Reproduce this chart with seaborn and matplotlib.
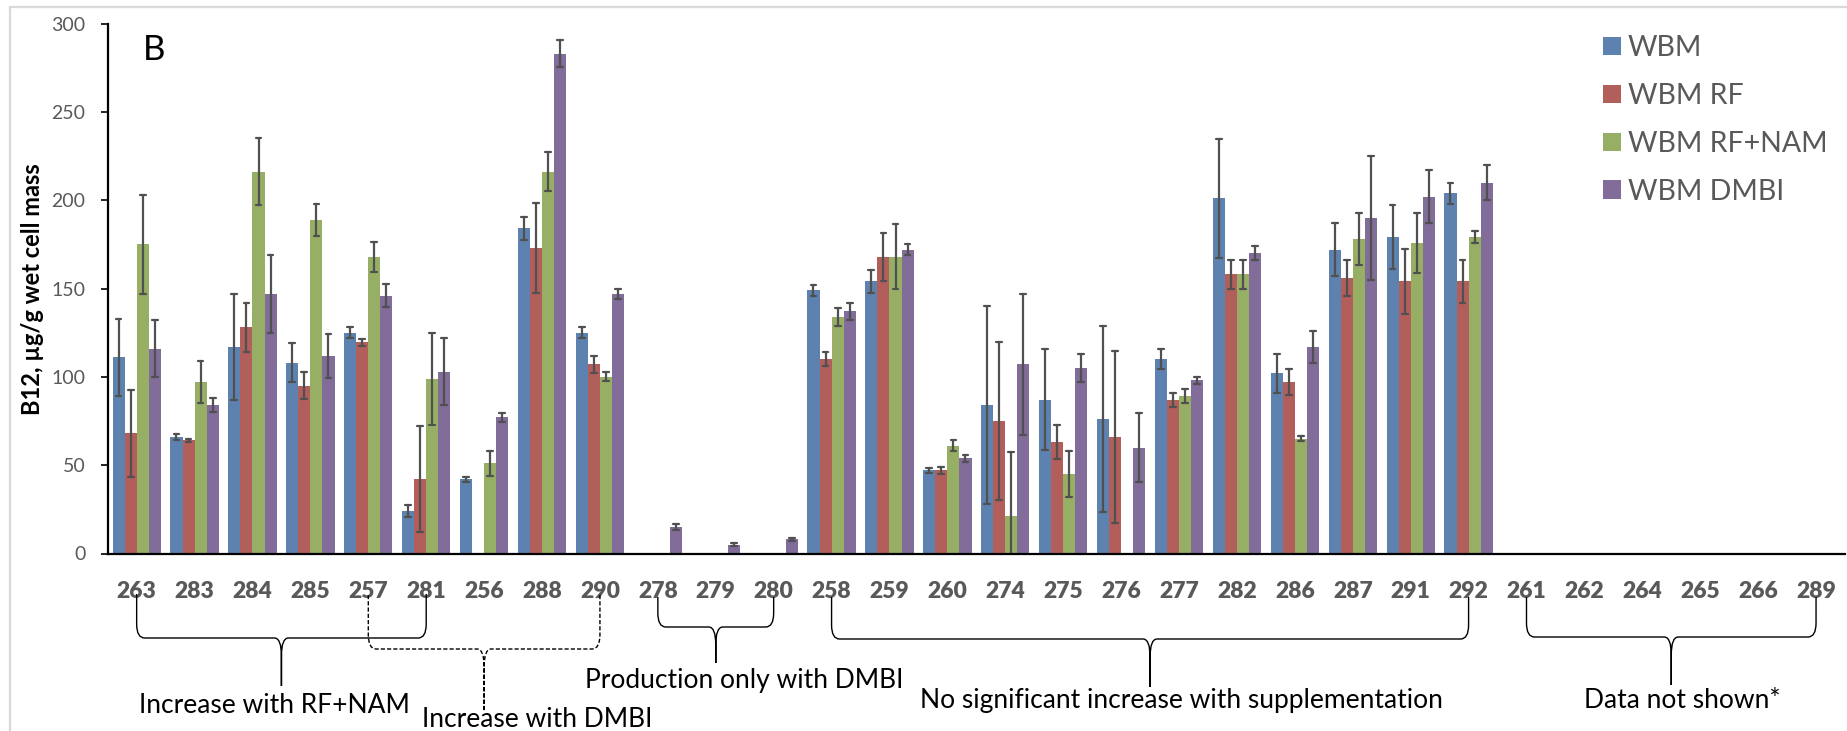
import numpy as np
import pandas as pd
import matplotlib
matplotlib.use("Agg")
import matplotlib.pyplot as plt
import seaborn as sns
from matplotlib.path import Path
from matplotlib.patches import PathPatch
from matplotlib.lines import Line2D
from matplotlib.transforms import IdentityTransform

nan = np.nan

# ---------------- data ----------------
categories = ['263', '283', '284', '285', '257', '281', '256', '288', '290',
              '278', '279', '280', '258', '259', '260', '274', '275', '276',
              '277', '282', '286', '287', '291', '292', '261', '262', '264',
              '265', '266', '289']
series = ['WBM', 'WBM RF', 'WBM RF+NAM', 'WBM DMBI']

wbm = [111, 66, 117, 108, 125, 24, 42, 184, 125, nan, nan, nan, 149, 154, 47,
       84, 87, 76, 110, 201, 102, 172, 179, 204, nan, nan, nan, nan, nan, nan]
wbm_err = [22, 1.5, 30, 11, 3, 3.5, 1.5, 6.5, 3, nan, nan, nan, 3, 6.5, 1.5,
           56, 28.5, 52.5, 5.5, 33.5, 11, 15, 18, 6, nan, nan, nan, nan, nan, nan]
wbm_rf = [68, 64, 128, 95, 119.5, 42, nan, 173, 107, nan, nan, nan, 110, 168, 47,
          75, 63, 66, 87, 158, 97, 156, 154, 154, nan, nan, nan, nan, nan, nan]
wbm_rf_err = [24.5, 0.8, 14, 7.5, 2, 30, nan, 25.5, 5, nan, nan, nan, 4, 13.5, 2,
              44.5, 9.5, 48.5, 3.8, 8, 7.5, 10, 18.5, 12, nan, nan, nan, nan, nan, nan]
wbm_nam = [175, 97, 216, 189, 168, 99, 51, 216, 100, nan, nan, nan, 134, 168, 61,
           21, 45, nan, 89, 158, 65, 178, 176, 179, nan, nan, nan, nan, nan, nan]
wbm_nam_err = [28, 12, 19, 9, 8.5, 26, 7, 11, 2.5, nan, nan, nan, 5, 18.5, 3,
               36.5, 13, nan, 4, 8, 1.5, 14.5, 17, 3.5, nan, nan, nan, nan, nan, nan]
wbm_dmbi = [116, 84, 147, 112, 146, 103, 77, 283, 147, 15, 5, 8, 137, 172, 54,
            107, 105, 60, 98, 170, 117, 190, 202, 210, nan, nan, nan, nan, nan, nan]
wbm_dmbi_err = [16, 4, 22, 12.5, 6.5, 19, 2.5, 7.5, 3, 1.5, 1, 1, 5, 3, 2,
                40, 8, 19.5, 2, 4, 9, 35, 15, 10, nan, nan, nan, nan, nan, nan]

yticks = [0, 50, 100, 150, 200, 250, 300]
colors = ['#4F81BD', '#C0504D', '#9BBB59', '#8064A2']

# (label, first category, last category, dashed?)
groups = [
    ("Increase with RF+NAM", '263', '281', False),
    ("Increase with DMBI", '257', '290', True),
    ("Production only with DMBI", '278', '280', False),
    ("No significant increase with supplementation", '258', '292', False),
    ("Data not shown*", '261', '289', False),
]

# --------------- long-form table (value +/- err pairs) ---------------
rows = []
for name, vals, errs in zip(series, [wbm, wbm_rf, wbm_nam, wbm_dmbi],
                            [wbm_err, wbm_rf_err, wbm_nam_err, wbm_dmbi_err]):
    for c, v, e in zip(categories, vals, errs):
        if np.isnan(v):
            continue
        rows.append((c, name, v - e))
        rows.append((c, name, v + e))
df = pd.DataFrame(rows, columns=['strain', 'medium', 'b12'])

# --------------- figure ---------------
sns.set_style("white")
plt.rcParams['font.family'] = ['Lato', 'DejaVu Sans']

W, H = 1847, 731
fig = plt.figure(figsize=(W / 100, H / 100), dpi=100)
ax_l, ax_r, ax_t, ax_b = 107.7, 1845.0, 23.5, 553.5
ax = fig.add_axes([ax_l / W, 1 - ax_b / H, (ax_r - ax_l) / W, (ax_b - ax_t) / H])

sns.barplot(data=df, x='strain', y='b12', hue='medium', order=categories,
            hue_order=series, palette=dict(zip(series, colors)), width=0.833,
            errorbar=lambda v: (v.min(), v.max()), capsize=0.4,
            err_kws={'color': '#505050', 'linewidth': 1.6},
            linewidth=0, ax=ax)

ax.set_xlim(-0.5, len(categories) - 0.5)
ax.set_ylim(0, 300)
ax.set_yticks(yticks)
ax.set_xlabel('')
ax.set_ylabel('')
for s in ['top', 'right']:
    ax.spines[s].set_visible(False)
for s in ['left', 'bottom']:
    ax.spines[s].set_color('black')
    ax.spines[s].set_linewidth(1.6)

ax.set_xticks(range(len(categories)))
ax.set_xticklabels(categories, fontweight='heavy', color='#595959', fontsize=16.5)
ax.tick_params(axis='x', which='major', length=0, pad=19.5)
ax.set_xticks(np.arange(len(categories) + 1) - 0.5, minor=True)
ax.tick_params(axis='x', which='minor', direction='inout', length=8, width=1.3,
               color='black')
ax.tick_params(axis='y', direction='out', length=5, width=1.2, color='black',
               labelcolor='#595959', labelsize=14, pad=11, left=True)
ax.grid(False)

# legend
sns.move_legend(ax, loc='upper left', bbox_to_anchor=(1602.7 / W, 1 - 35 / H),
                bbox_transform=fig.transFigure, frameon=False, title=None,
                fontsize=20.5, handlelength=0.63, handleheight=0.63,
                handletextpad=0.25, labelspacing=0.77, borderpad=0,
                borderaxespad=0, labelcolor='#595959')

# panel letter and y label
fig.text(143 / W, 1 - 49.5 / H, 'B', fontsize=25, color='black',
         ha='left', va='center')
fig.text(33 / W, 1 - 289 / H, 'B12, µg/g wet cell mass', fontsize=17,
         fontweight='bold', rotation=90, ha='center', va='center', color='black')

# chart-area frame (light gray border, cropped)
fig.add_artist(Line2D([10 / W, 1], [1 - 7 / H, 1 - 7 / H], transform=fig.transFigure,
                      color='#D9D9D9', lw=1.6))
fig.add_artist(Line2D([10 / W, 10 / W], [0, 1 - 7 / H], transform=fig.transFigure,
                      color='#D9D9D9', lw=1.6))

# --------------- group braces ---------------
def xpix(cat):
    return ax.transData.transform((categories.index(cat), 0))[0]

brace_y = {  # top, horizontal, tip bottom, text baseline (pixels from top)
    "Increase with RF+NAM": (594, 638, 686, 713),
    "Increase with DMBI": (595, 649, 711, 727),
    "Production only with DMBI": (597, 627, 663, 688),
    "No significant increase with supplementation": (597, 639, 687, 708),
    "Data not shown*": (597, 637, 685, 708),
}
text_dx = {
    "Increase with RF+NAM": -7,
    "Increase with DMBI": 53,
    "Production only with DMBI": 28,
    "No significant increase with supplementation": 31,
    "Data not shown*": 11,
}


def brace(x1, x2, ytop, yh, ytip, dashed):
    xm = (x1 + x2) / 2
    r, rv, t, tv = 8, 14, 7, 18
    pts = []
    codes = []
    for xa, sgn in ((x1, 1), (x2, -1)):
        seg = [(xa, ytop), (xa, yh - rv), (xa, yh), (xa + sgn * r, yh),
               (xm - sgn * t, yh), (xm, yh), (xm, yh + tv), (xm, ytip)]
        cds = [Path.MOVETO, Path.LINETO, Path.CURVE3, Path.CURVE3,
               Path.LINETO, Path.CURVE3, Path.CURVE3, Path.LINETO]
        pts += seg
        codes += cds
    verts = [(x, H - y) for x, y in pts]
    patch = PathPatch(Path(verts, codes), facecolor='none', edgecolor='black',
                      lw=1.0, linestyle=(0, (3, 1.5)) if dashed else '-',
                      transform=IdentityTransform(), clip_on=False)
    fig.add_artist(patch)
    return xm


for label, c1, c2, dashed in groups:
    ytop, yh, ytip, ybase = brace_y[label]
    xm = brace(xpix(c1), xpix(c2), ytop, yh, ytip, dashed)
    fig.text((xm + text_dx[label]) / W, 1 - ybase / H, label, fontsize=19,
             color='black', ha='center', va='baseline')

fig.savefig('out.png', dpi=100)
